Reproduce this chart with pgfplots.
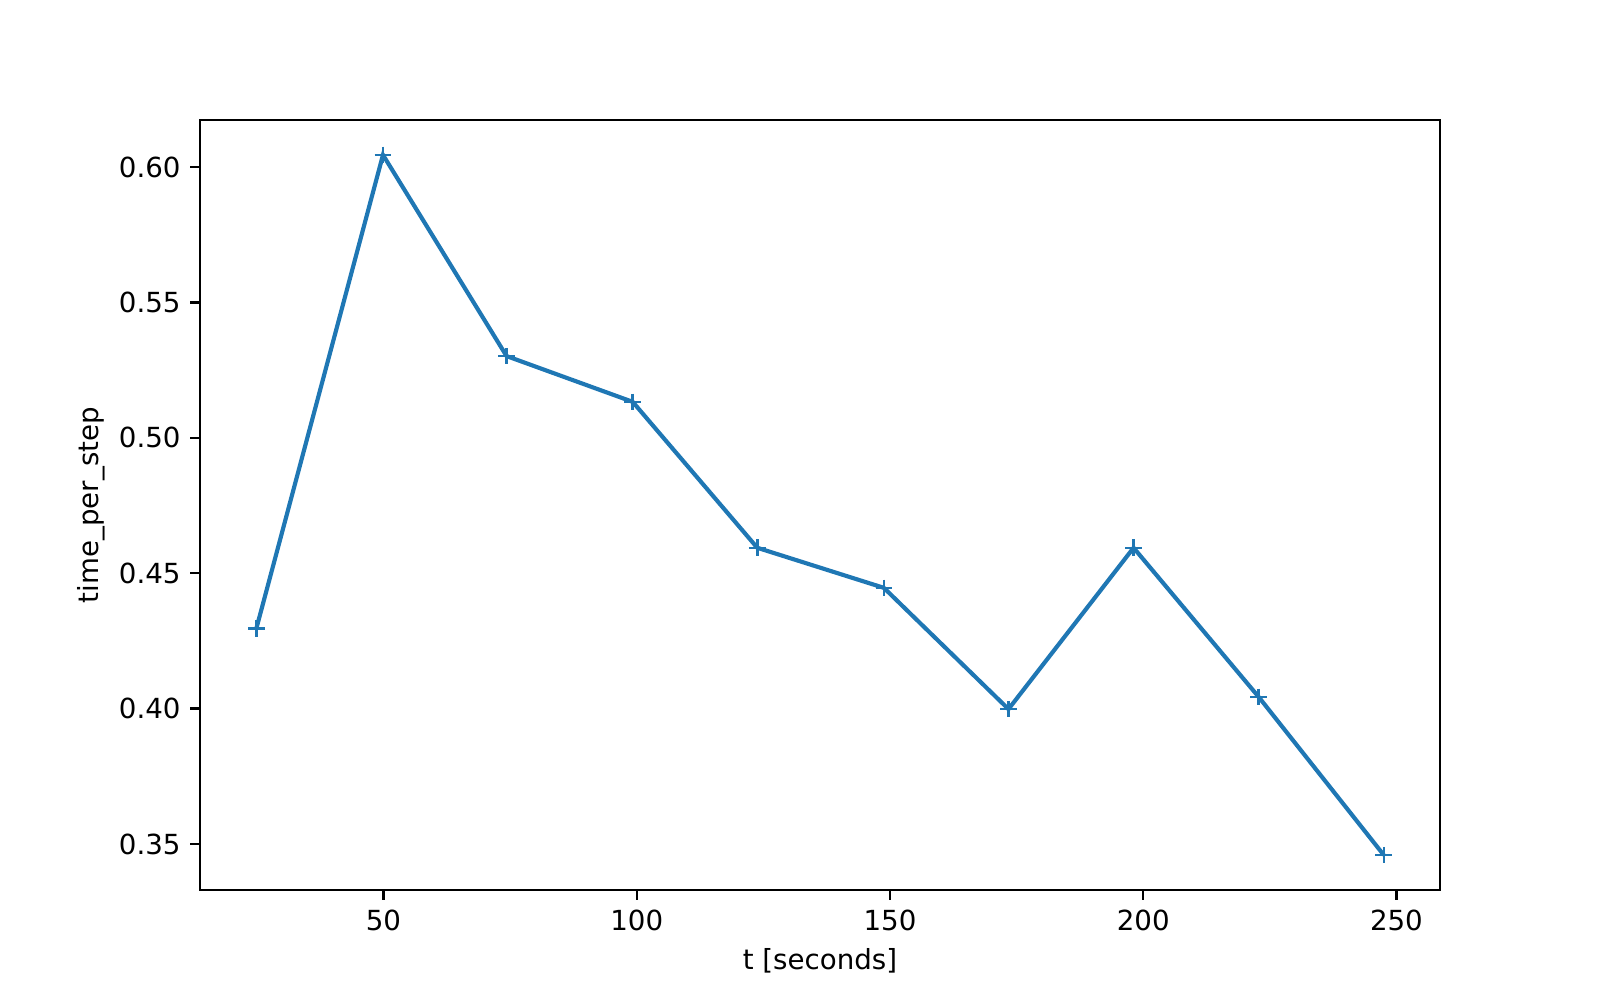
\documentclass[border=0pt]{standalone}
\usepackage{fontspec}
\setmainfont{DejaVu Sans}
\usepackage{pgfplots}
\pgfplotsset{compat=1.18}
\definecolor{tabblue}{HTML}{1F77B4}
\begin{document}
\begin{tikzpicture}
\useasboundingbox (-2.54cm,-1.397cm) rectangle (17.78cm,11.303cm);
\begin{axis}[
  at={(0,0)}, anchor=south west,
  scale only axis,
  width=15.748cm, height=9.779cm,
  xmin=13.77, xmax=258.6,
  ymin=0.333, ymax=0.6174,
  xtick={50,100,150,200,250},
  ytick={0.35,0.40,0.45,0.50,0.55,0.60},
  /pgf/number format/assume math mode=true,
  yticklabel style={/pgf/number format/fixed,/pgf/number format/fixed zerofill,/pgf/number format/precision=2},
  xticklabel style={/pgf/number format/fixed},
  scaled y ticks=false,
  tick style={black, line width=0.8pt},
  tick align=outside,
  major tick length=3.5pt,
  xtick pos=bottom, ytick pos=left,
  axis line style={line width=0.8pt},
  ticklabel style={font=\fontsize{10}{12}\selectfont},
  label style={font=\fontsize{10}{12}\selectfont},
  xlabel={t [seconds]},
  ylabel={time\_per\_step},
  xlabel style={yshift=0.5pt},
  ylabel style={yshift=-2pt},
]
\addplot[color=tabblue, line width=1.5pt, mark=+, mark size=3pt, mark options={line width=0.9pt}] coordinates {
(24.9,0.4296)
(49.9,0.6045)
(74.3,0.5302)
(99.2,0.5133)
(123.8,0.4594)
(148.8,0.4446)
(173.4,0.3998)
(198.1,0.4594)
(222.8,0.4043)
(247.5,0.3459)
};
\end{axis}
\end{tikzpicture}
\end{document}
